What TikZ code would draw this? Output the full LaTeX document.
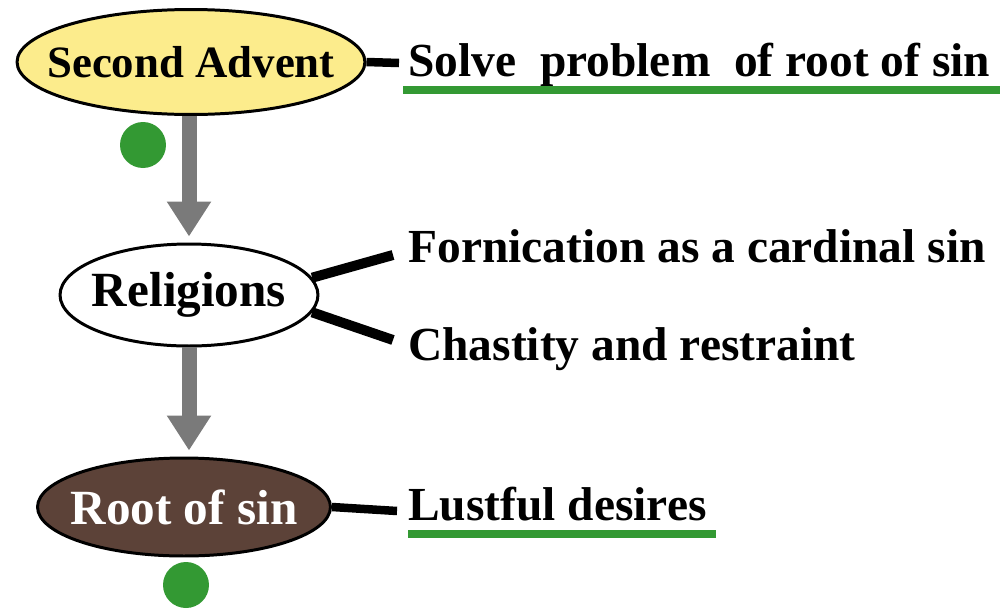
\documentclass[tikz,border=0pt]{standalone}
\usepackage{fontspec}
\setmainfont{Liberation Serif}
\usetikzlibrary{shapes.geometric, arrows.meta}

\definecolor{adventyellow}{RGB}{252,236,140}
\definecolor{rootbrown}{RGB}{92,66,56}
\definecolor{markgreen}{RGB}{51,153,51}
\definecolor{arrowgray}{RGB}{122,122,122}

\begin{document}
\begin{tikzpicture}[x=0.02cm, y=-0.02cm,
        oval/.style={draw, ellipse, line width=1.7pt, inner sep=0pt},
        ovaltext/.style={inner sep=0pt, font=\bfseries\fontsize{28}{30}\selectfont},
        label/.style={anchor=base west, inner sep=0pt, font=\bfseries\fontsize{27}{30}\selectfont},
        flow/.style={draw=arrowgray, line width=0.3cm, -{Triangle[width=0.84cm, length=0.7cm]}},
        link/.style={draw, line width=0.17cm},
        uline/.style={draw=markgreen, line width=0.15cm},
        dot/.style={circle, fill=markgreen, minimum size=0.92cm, inner sep=0pt}]
        \useasboundingbox (0, 0) rectangle (1005, 609);

        \node[oval, fill=adventyellow, minimum width=6.96cm, minimum height=2.1cm] (advent) at (191, 62) {};
        \node[oval, fill=white, minimum width=5.16cm, minimum height=2.04cm] (religions) at (189, 295) {};
        \node[oval, fill=rootbrown, minimum width=5.86cm, minimum height=1.96cm] (root) at (184, 507) {};

        \node[ovaltext, font=\bfseries\fontsize{25.5}{30}\selectfont] (adventtext) at (advent) {Second Advent};
        \node[ovaltext] (religionstext) at (religions) {Religions};
        \node[ovaltext, text=white] (roottext) at (root) {Root of sin};

        \node[label] (solve) at (408, 76) {Solve\ \ problem\ \ of root of sin};
        \node[label] (fornication) at (408, 262) {Fornication as a cardinal sin};
        \node[label] (chastity) at (408, 360) {Chastity and restraint};
        \node[label] (lustful) at (408, 520) {Lustful desires};

        \coordinate (solveend) at (399, 63);
        \coordinate (fornend) at (393, 255);
        \coordinate (chastend) at (393, 340);
        \coordinate (lustend) at (397, 511);

        \draw[link] (advent.east) -- (solveend);
        \draw[link, line width=0.2cm] (religions.8) -- (fornend);
        \draw[link, line width=0.2cm] (religions.-8) -- (chastend);
        \draw[link] (root.east) -- (lustend);

        \draw[flow, shorten >=0.12cm] (advent.south -| religions.north) -- (religions.north);
        \draw[flow, shorten >=0.12cm] (religions.south) -- (religions.south |- root.north);

        \draw[uline] (403, 90) -- (1000, 90);
        \draw[uline] (408, 534) -- (716, 534);

        \node[dot] (dotadvent) at (143, 145) {};
        \node[dot] (dotroot) at (186, 585) {};

    \end{tikzpicture}
\end{document}
